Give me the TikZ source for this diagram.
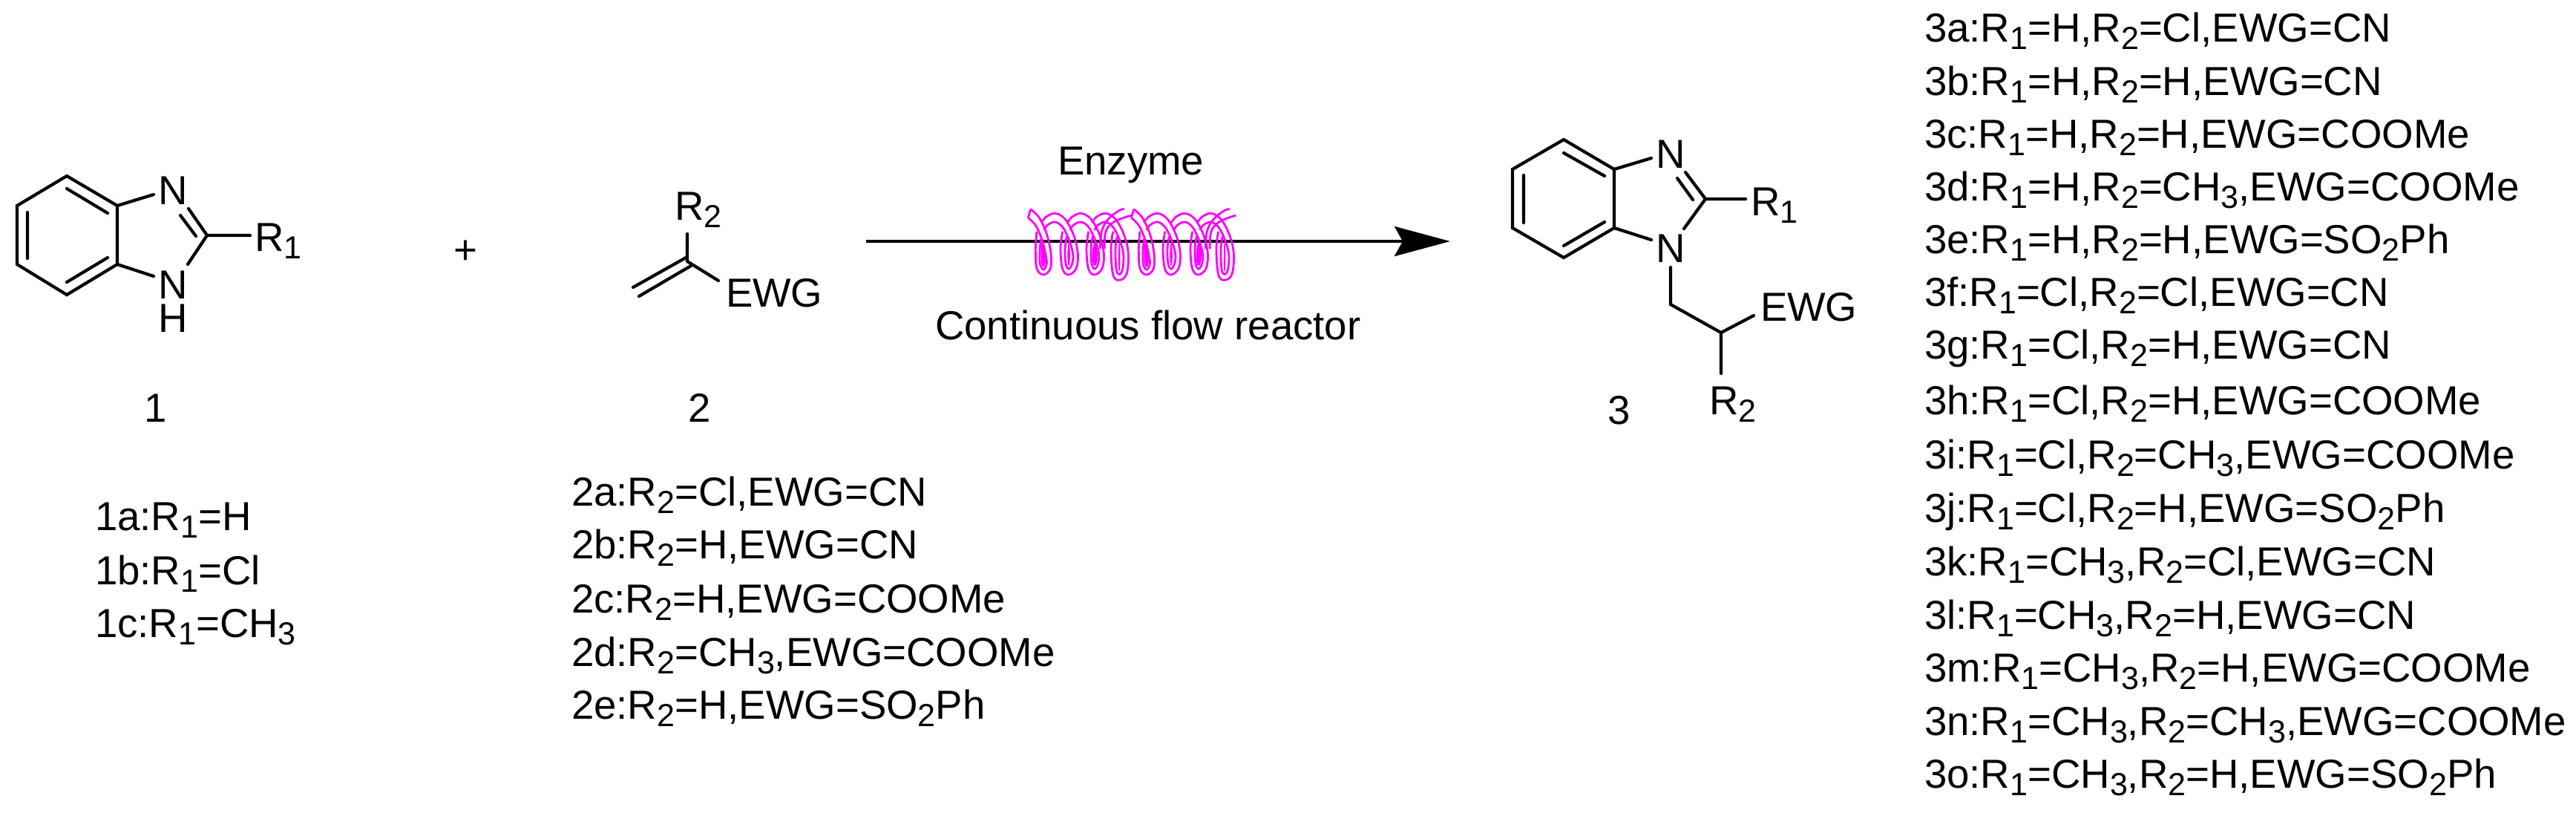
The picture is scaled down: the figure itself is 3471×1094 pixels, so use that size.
\documentclass[tikz,border=0pt]{standalone}
\usepackage{fontspec}
\setmainfont{Liberation Sans}
\usetikzlibrary{arrows.meta}
\definecolor{coilmag}{RGB}{255,0,255}
\newcommand\dn[1]{\raisebox{-5.3pt}{\fontsize{21.5}{21.5}\selectfont #1}}
\newcommand\Ra{R\dn{1}}
\newcommand\Rb{R\dn{2}}
\newcommand\Me{CH\dn{3}}
\newcommand\Sul{SO\dn{2}Ph}
\tikzset{
  txt/.style={anchor=base west,inner sep=0pt,outer sep=0pt,font=\fontsize{27.3}{27.3}\selectfont},
  ctr/.style={anchor=base,inner sep=0pt,outer sep=0pt,font=\fontsize{27.3}{27.3}\selectfont},
  bond/.style={line width=2.1pt,line cap=round,line join=miter,black},
  flow/.style={line width=2.1pt,black,-{Stealth[length=37.5pt,width=20pt,inset=5.5pt]}},
  coil/.style={line width=1.4pt,draw=coilmag,line join=round},
}
% one turn of the coil, in coordinates of a 3x enlargement, relative to its bottom centre
\newcommand\coilturn[3]{%
\begin{scope}[shift={(#1,275)},x=0.16667pt,y=-0.16667pt]
  \draw[coil] plot[smooth,tension=0.6] coordinates {(-110,75) (-92,52) (-55,37) (-15,60) (20,125) (37,200) (30,{260+#2}) (0,{285+#2}) (-25,{262+#2}) (-33,180) (-25,110)};
  \draw[coil] plot[smooth,tension=0.6] coordinates {(-100,105) (-85,84) (-55,72) (-25,92) (0,140) (17,200) (14,{240+#2}) (0,{262+#2}) (-12,{240+#2}) (-15,180) (-8,130)};
  \fill[coilmag,xscale=#3] plot[smooth cycle,tension=0.6] coordinates {(2,150) (12,200) (9,{235+#2}) (0,{250+#2}) (-8,{235+#2}) (-10,190)};
\end{scope}}
\newcommand\coilstart[1]{%
\begin{scope}[shift={(#1,275)},x=0.16667pt,y=-0.16667pt]
  \draw[coil] plot[smooth,tension=0.6] coordinates {(-52,20) (-17,55) (13,120) (30,200) (28,260) (0,285) (-27,260) (-32,180) (-27,110)};
  \draw[coil] plot[smooth,tension=0.6] coordinates {(-62,55) (-32,85) (-7,140) (8,200) (13,240) (0,265) (-14,240) (-14,180) (-10,140)};
  \draw[coil] (-52,20) -- (-62,55);
  \fill[coilmag] plot[smooth cycle,tension=0.6] coordinates {(-5,150) (6,200) (8,235) (0,255) (-9,235) (-10,190)};
\end{scope}}
\newcommand\coilrise[2]{%
\begin{scope}[shift={(#1,275)},x=0.16667pt,y=-0.16667pt]
  \draw[coil] plot[smooth,tension=0.6] coordinates {(-38,180) (-32,110) (-5,60) (40,25) (60,20)};
  \draw[coil] plot[smooth,tension=0.6] coordinates {(-20,180) (-15,110) (20,70) (#2,45)};
\end{scope}}
\begin{document}
\begin{tikzpicture}[x=0.5pt,y=-0.5pt]
\path[use as bounding box] (0,0) rectangle (3471,1094);

% --- compound 1
\coordinate (a1) at (90,237);  \coordinate (a2) at (23,277);
\coordinate (a3) at (23,356);  \coordinate (a4) at (90,397);
\coordinate (a5) at (158,356); \coordinate (a6) at (158,277);
\draw[bond] (a1) -- (a2) -- (a3) -- (a4) -- (a5) -- (a6) -- cycle;
\coordinate (a1i) at (90,254);  \coordinate (a6i) at (145,287);
\coordinate (a2i) at (37,286);  \coordinate (a3i) at (37,348);
\coordinate (a4i) at (90,380);  \coordinate (a5i) at (145,347);
\draw[bond] (a1i) -- (a6i) (a2i) -- (a3i) (a4i) -- (a5i);
\coordinate (an1) at (207,262); \coordinate (an2) at (207,372);
\coordinate (ac) at (279,317);  \coordinate (ac1) at (254,281);
\coordinate (ac2) at (264,318); \coordinate (ac3) at (243,290);
\coordinate (ac4) at (253,356); \coordinate (ar) at (337,317);
\draw[bond] (a6) -- (an1) (a5) -- (an2) (ac) -- (ac1) (ac2) -- (ac3) (ac) -- (ac4) (ac) -- (ar);
\node[ctr] (n1) at (233,275) {N};
\node[ctr] (n2) at (233,402) {N};
\node[ctr] (h2) at (233,447) {H};
\node[txt] (r1a) at (343,338) {\Ra};
\node[ctr] (lab1) at (210,568) {1};

% --- plus
\node[ctr] (plus) at (627,355) {+};

% --- compound 2
\coordinate (b0) at (926,352); \coordinate (bu) at (926,315);
\coordinate (b1) at (926,346); \coordinate (b2) at (853,387);
\coordinate (b3) at (931,358); \coordinate (b4) at (861,399);
\coordinate (be) at (968,378);
\draw[bond] (b0) -- (bu) (b1) -- (b2) (b3) -- (b4) (b0) -- (be);
\node[txt] (r2a) at (909,296) {\Rb};
\node[txt] (ewg2) at (978,413) {EWG};
\node[ctr] (lab2) at (943,568) {2};

% --- arrow
\coordinate (fs) at (1167,325); \coordinate (fe) at (1954,325);
\draw[flow] (fs) -- (fe);
\node[txt] (enz) at (1425,235) {Enzyme};
\node[txt] (cfr) at (1260,457) {Continuous flow reactor};

% --- coil
\coilstart{1406}
\coilturn{1440}{0}{0.45}
\coilturn{1475}{0}{1}
\coilturn{1508}{22}{0.35}
\coilrise{1495}{90}
\coilstart{1545}
\coilturn{1578}{0}{0.45}
\coilturn{1615}{0}{1}
\coilturn{1650}{22}{0.35}
\coilrise{1637}{85}

% --- compound 3
\coordinate (c1) at (2107,188); \coordinate (c2) at (2038,228);
\coordinate (c3) at (2038,307); \coordinate (c4) at (2107,347);
\coordinate (c5) at (2175,307); \coordinate (c6) at (2175,228);
\draw[bond] (c1) -- (c2) -- (c3) -- (c4) -- (c5) -- (c6) -- cycle;
\coordinate (c1i) at (2107,206); \coordinate (c6i) at (2162,237);
\coordinate (c2i) at (2053,236); \coordinate (c3i) at (2053,300);
\coordinate (c4i) at (2107,331); \coordinate (c5i) at (2162,299);
\draw[bond] (c1i) -- (c6i) (c2i) -- (c3i) (c4i) -- (c5i);
\coordinate (cn1) at (2225,213); \coordinate (cn2) at (2225,323);
\coordinate (cc) at (2298,268);  \coordinate (cc1) at (2271,232);
\coordinate (cc2) at (2281,269); \coordinate (cc3) at (2260,240);
\coordinate (cc4) at (2269,308); \coordinate (cr) at (2352,268);
\draw[bond] (c6) -- (cn1) (c5) -- (cn2) (cc) -- (cc1) (cc2) -- (cc3) (cc) -- (cc4) (cc) -- (cr);
\coordinate (cd1) at (2251,360); \coordinate (cd2) at (2251,410);
\coordinate (cd3) at (2319,448); \coordinate (cd4) at (2363,425);
\coordinate (cd5) at (2319,503);
\draw[bond] (cd1) -- (cd2) -- (cd3) -- (cd4) (cd3) -- (cd5);
\node[ctr] (n3) at (2251,226) {N};
\node[ctr] (n4) at (2251,353) {N};
\node[txt] (r1c) at (2359,290) {\Ra};
\node[txt] (ewg3) at (2372,432) {EWG};
\node[txt] (r2c) at (2303,558) {\Rb};
\node[ctr] (lab3) at (2182,571) {3};

% --- list 1
\node[txt] (l1a) at (128,714) {1a:\Ra=H};
\node[txt] (l1b) at (128,787) {1b:\Ra=Cl};
\node[txt] (l1c) at (128,858) {1c:\Ra=\Me};

% --- list 2
\node[txt] (l2a) at (770,681) {2a:\Rb=Cl,EWG=CN};
\node[txt] (l2b) at (770,752) {2b:\Rb=H,EWG=CN};
\node[txt] (l2c) at (770,825) {2c:\Rb=H,EWG=COOMe};
\node[txt] (l2d) at (770,897) {2d:\Rb=\Me,EWG=COOMe};
\node[txt] (l2e) at (770,968) {2e:\Rb=H,EWG=\Sul};

% --- list 3
\node[txt] (l3a) at (2593,56)   {3a:\Ra=H,\Rb=Cl,EWG=CN};
\node[txt] (l3b) at (2593,128)  {3b:\Ra=H,\Rb=H,EWG=CN};
\node[txt] (l3c) at (2593,199)  {3c:\Ra=H,\Rb=H,EWG=COOMe};
\node[txt] (l3d) at (2593,270)  {3d:\Ra=H,\Rb=\Me,EWG=COOMe};
\node[txt] (l3e) at (2593,341)  {3e:\Ra=H,\Rb=H,EWG=\Sul};
\node[txt] (l3f) at (2593,412)  {3f:\Ra=Cl,\Rb=Cl,EWG=CN};
\node[txt] (l3g) at (2593,483)  {3g:\Ra=Cl,\Rb=H,EWG=CN};
\node[txt] (l3h) at (2593,558)  {3h:\Ra=Cl,\Rb=H,EWG=COOMe};
\node[txt] (l3i) at (2593,631)  {3i:\Ra=Cl,\Rb=\Me,EWG=COOMe};
\node[txt] (l3j) at (2593,703)  {3j:\Ra=Cl,\Rb=H,EWG=\Sul};
\node[txt] (l3k) at (2593,775)  {3k:\Ra=\Me,\Rb=Cl,EWG=CN};
\node[txt] (l3l) at (2593,847)  {3l:\Ra=\Me,\Rb=H,EWG=CN};
\node[txt] (l3m) at (2593,918)  {3m:\Ra=\Me,\Rb=H,EWG=COOMe};
\node[txt] (l3n) at (2593,990)  {3n:\Ra=\Me,\Rb=\Me,EWG=COOMe};
\node[txt] (l3o) at (2593,1061) {3o:\Ra=\Me,\Rb=H,EWG=\Sul};
\end{tikzpicture}
\end{document}
